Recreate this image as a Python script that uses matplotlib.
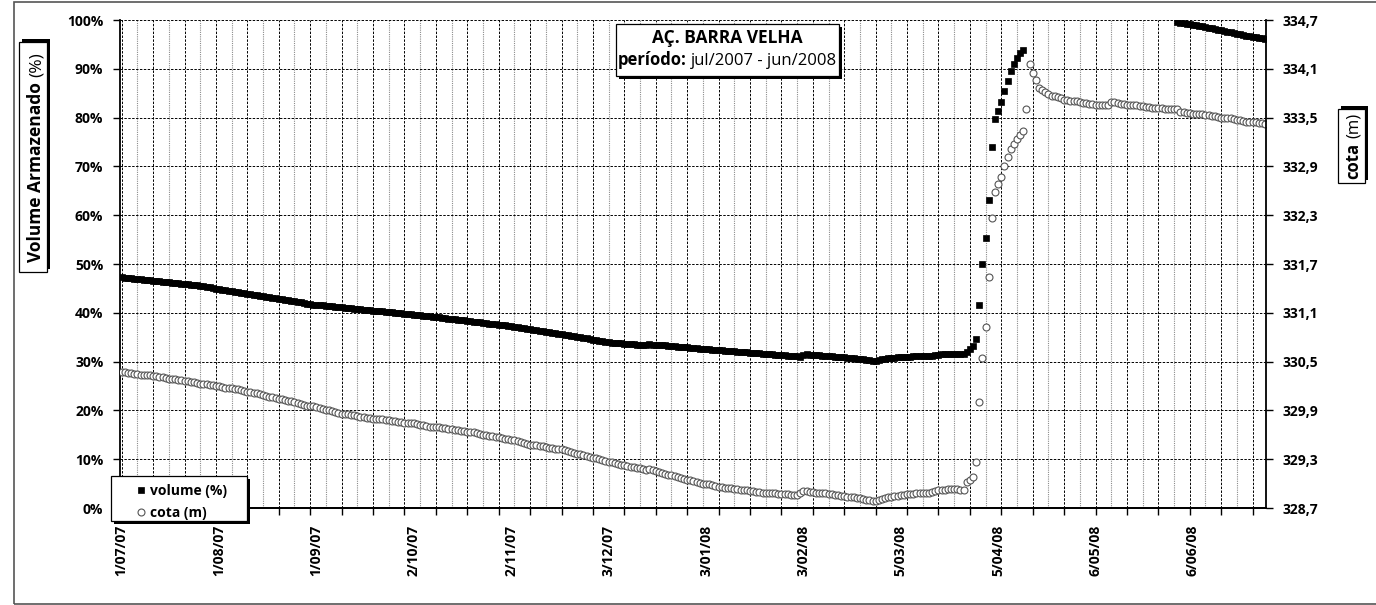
import matplotlib
matplotlib.use('Agg')
import matplotlib.pyplot as plt
import matplotlib.dates as mdates
import numpy as np
import pandas as pd
from matplotlib.patches import Rectangle
from matplotlib.ticker import FuncFormatter

plt.rcParams['font.family'] = ['Open Sans', 'DejaVu Sans']

W, H = 1376, 605

# Dados (um valor por dia, de 1/07/2007 em diante)
inicio = '2007-07-01'

# volume armazenado (%) - acima de 100% os pontos não aparecem no gráfico
volume = [
    47.3, 47.2, 47.2, 47.1, 47.0, 47.0, 46.9, 46.8, 46.8, 46.7,
    46.6, 46.6, 46.5, 46.4, 46.3, 46.3, 46.2, 46.1, 46.1, 46.0,
    45.9, 45.8, 45.7, 45.7, 45.6, 45.5, 45.4, 45.3, 45.2, 45.1,
    44.9, 44.8, 44.7, 44.6, 44.5, 44.4, 44.3, 44.2, 44.1, 44.0,
    43.9, 43.8, 43.7, 43.6, 43.5, 43.4, 43.3, 43.2, 43.1, 43.0,
    42.9, 42.8, 42.7, 42.6, 42.5, 42.4, 42.3, 42.2, 42.1, 41.9,
    41.8, 41.7, 41.6, 41.5, 41.5, 41.4, 41.3, 41.3, 41.2, 41.1,
    41.1, 41.0, 40.9, 40.9, 40.8, 40.7, 40.7, 40.6, 40.6, 40.5,
    40.4, 40.4, 40.3, 40.3, 40.2, 40.1, 40.1, 40.0, 40.0, 39.9,
    39.8, 39.8, 39.7, 39.6, 39.6, 39.5, 39.4, 39.4, 39.3, 39.2,
    39.1, 39.1, 39.0, 38.9, 38.8, 38.8, 38.7, 38.6, 38.5, 38.5,
    38.4, 38.3, 38.2, 38.1, 38.1, 38.0, 37.9, 37.8, 37.7, 37.7,
    37.6, 37.5, 37.4, 37.3, 37.2, 37.1, 37.0, 36.9, 36.8, 36.7,
    36.6, 36.5, 36.4, 36.3, 36.2, 36.1, 36.0, 35.9, 35.8, 35.7,
    35.6, 35.5, 35.4, 35.3, 35.2, 35.1, 35.0, 34.9, 34.8, 34.6,
    34.5, 34.4, 34.3, 34.2, 34.1, 34.0, 33.9, 33.9, 33.8, 33.8,
    33.7, 33.7, 33.6, 33.6, 33.5, 33.5, 33.4, 33.4, 33.6, 33.5,
    33.5, 33.4, 33.4, 33.3, 33.2, 33.2, 33.1, 33.0, 33.0, 32.9,
    32.9, 32.8, 32.8, 32.7, 32.6, 32.6, 32.5, 32.5, 32.4, 32.4,
    32.3, 32.3, 32.2, 32.2, 32.1, 32.1, 32.0, 32.0, 31.9, 31.9,
    31.8, 31.8, 31.7, 31.7, 31.6, 31.6, 31.5, 31.5, 31.4, 31.4,
    31.3, 31.3, 31.2, 31.2, 31.1, 31.1, 31.0, 31.4, 31.5, 31.4,
    31.4, 31.3, 31.3, 31.2, 31.2, 31.1, 31.1, 31.0, 31.0, 30.9,
    30.9, 30.8, 30.7, 30.7, 30.6, 30.5, 30.5, 30.4, 30.3, 30.2,
    30.1, 30.3, 30.5, 30.6, 30.7, 30.8, 30.8, 30.9, 30.9, 31.0,
    31.0, 31.0, 31.1, 31.1, 31.1, 31.2, 31.2, 31.2, 31.2, 31.3,
    31.4, 31.5, 31.5, 31.5, 31.5, 31.5, 31.5, 31.5, 31.6, 32.0,
    32.6, 33.1, 34.6, 41.7, 49.9, 55.3, 63.1, 73.9, 79.8, 81.4,
    83.2, 85.5, 87.5, 89.5, 91.0, 92.3, 93.2, 93.9,
] + [np.nan] * 48 + [
    99.5, 99.4, 99.3, 99.2, 99.1, 99.0, 98.9, 98.8, 98.7, 98.6,
    98.4, 98.3, 98.2, 98.0, 97.9, 97.8, 97.6, 97.5, 97.4, 97.2,
    97.1, 97.0, 96.8, 96.7, 96.6, 96.5, 96.4, 96.3, 96.1,
]

# cota (m)
cota = [
    330.37, 330.37, 330.36, 330.36, 330.35, 330.35, 330.34, 330.34, 330.33, 330.33,
    330.32, 330.32, 330.31, 330.31, 330.30, 330.29, 330.29, 330.28, 330.27, 330.27,
    330.26, 330.26, 330.25, 330.25, 330.24, 330.23, 330.23, 330.22, 330.21, 330.21,
    330.20, 330.20, 330.19, 330.18, 330.18, 330.17, 330.16, 330.16, 330.15, 330.14,
    330.13, 330.13, 330.12, 330.11, 330.10, 330.09, 330.08, 330.07, 330.06, 330.05,
    330.04, 330.04, 330.03, 330.02, 330.01, 330.00, 329.99, 329.98, 329.97, 329.96,
    329.95, 329.95, 329.94, 329.93, 329.92, 329.91, 329.90, 329.89, 329.88, 329.87,
    329.86, 329.86, 329.85, 329.84, 329.84, 329.83, 329.82, 329.82, 329.81, 329.81,
    329.80, 329.80, 329.79, 329.79, 329.78, 329.78, 329.77, 329.77, 329.76, 329.76,
    329.75, 329.75, 329.74, 329.74, 329.73, 329.72, 329.72, 329.71, 329.70, 329.70,
    329.69, 329.69, 329.68, 329.68, 329.67, 329.67, 329.66, 329.66, 329.65, 329.65,
    329.64, 329.63, 329.63, 329.62, 329.61, 329.60, 329.60, 329.59, 329.58, 329.57,
    329.57, 329.56, 329.55, 329.55, 329.54, 329.53, 329.52, 329.51, 329.50, 329.49,
    329.48, 329.48, 329.47, 329.46, 329.46, 329.45, 329.44, 329.44, 329.43, 329.42,
    329.42, 329.41, 329.40, 329.39, 329.38, 329.37, 329.36, 329.35, 329.34, 329.33,
    329.32, 329.31, 329.30, 329.29, 329.28, 329.27, 329.26, 329.25, 329.24, 329.23,
    329.23, 329.22, 329.21, 329.20, 329.19, 329.19, 329.18, 329.17, 329.18, 329.17,
    329.15, 329.14, 329.13, 329.12, 329.11, 329.10, 329.09, 329.08, 329.07, 329.06,
    329.05, 329.04, 329.03, 329.02, 329.01, 329.00, 328.99, 328.99, 328.98, 328.97,
    328.96, 328.96, 328.95, 328.95, 328.94, 328.93, 328.93, 328.92, 328.92, 328.92,
    328.91, 328.91, 328.90, 328.90, 328.89, 328.89, 328.88, 328.88, 328.88, 328.87,
    328.87, 328.87, 328.87, 328.86, 328.86, 328.86, 328.89, 328.91, 328.91, 328.90,
    328.90, 328.89, 328.89, 328.88, 328.88, 328.87, 328.87, 328.86, 328.86, 328.85,
    328.85, 328.84, 328.83, 328.83, 328.82, 328.82, 328.81, 328.80, 328.80, 328.79,
    328.78, 328.80, 328.81, 328.82, 328.83, 328.84, 328.85, 328.85, 328.86, 328.86,
    328.87, 328.87, 328.87, 328.88, 328.88, 328.88, 328.89, 328.89, 328.90, 328.91,
    328.92, 328.92, 328.92, 328.93, 328.93, 328.93, 328.93, 328.92, 328.92, 329.02,
    329.04, 329.08, 329.26, 330.00, 330.55, 330.93, 331.54, 332.26, 332.58, 332.68,
    332.77, 332.91, 333.01, 333.12, 333.18, 333.24, 333.28, 333.33, 333.61, 334.16,
    334.05, 333.96, 333.86, 333.84, 333.81, 333.79, 333.77, 333.76, 333.75, 333.74,
    333.72, 333.72, 333.71, 333.70, 333.70, 333.69, 333.68, 333.68, 333.67, 333.67,
    333.66, 333.66, 333.66, 333.65, 333.65, 333.69, 333.69, 333.68, 333.67, 333.67,
    333.66, 333.66, 333.65, 333.65, 333.64, 333.64, 333.63, 333.63, 333.62, 333.62,
    333.62, 333.62, 333.61, 333.61, 333.61, 333.61, 333.61, 333.57, 333.57, 333.56,
    333.56, 333.55, 333.55, 333.54, 333.54, 333.53, 333.53, 333.52, 333.52, 333.51,
    333.50, 333.50, 333.49, 333.49, 333.48, 333.47, 333.47, 333.46, 333.45, 333.45,
    333.44, 333.44, 333.43, 333.43, 333.42,
]

datas = pd.date_range(inicio, periods=len(cota), freq='D')

rotulos_x = ['1/07/07', '1/08/07', '1/09/07', '2/10/07', '2/11/07', '3/12/07',
             '3/01/08', '3/02/08', '5/03/08', '5/04/08', '6/05/08', '6/06/08']
datas_rotulos = pd.to_datetime(['2007-07-01', '2007-08-01', '2007-09-01', '2007-10-02',
                                '2007-11-02', '2007-12-03', '2008-01-03', '2008-02-03',
                                '2008-03-05', '2008-04-05', '2008-05-06', '2008-06-06'])
ticks_vol = [0, 10, 20, 30, 40, 50, 60, 70, 80, 90, 100]
ticks_cota = [328.7, 329.3, 329.9, 330.5, 331.1, 331.7, 332.3, 332.9, 333.5, 334.1, 334.7]
rotulos_cota = ['328,7', '329,3', '329,9', '330,5', '331,1', '331,7',
                '332,3', '332,9', '333,5', '334,1', '334,7']

fig = plt.figure(figsize=(13.76, 6.05), dpi=100)
fig.patch.set_facecolor('white')

# moldura externa do gráfico
fig.patches.append(Rectangle((14 / W, 1 / H), 1.2, 1 - 3 / H, transform=fig.transFigure,
                             facecolor='none', edgecolor='#555555', lw=1.2, zorder=0))

ax = fig.add_axes([120 / W, 1 - 508 / H, (1265.5 - 120) / W, (508 - 20) / H])
x0 = mdates.date2num(pd.Timestamp(inicio))
ax.set_xlim(x0 - 0.54, x0 + 364.1)
ax.set_ylim(0, 100)

# grade: linhas pretas a cada 10 dias, cinzas a cada 5
ax.set_xticks(mdates.date2num(pd.date_range(inicio, '2008-06-29', freq='10D')))
ax.set_yticks(ticks_vol)
ax.grid(True, which='major', color='black', lw=0.7, ls=(0, (2.5, 1.5)))
for d in pd.date_range('2007-07-06', '2008-06-29', freq='10D'):
    ax.axvline(d, color='#8c8c8c', lw=0.8, ls=(0, (1, 1)), zorder=0.5)
ax.set_axisbelow(True)

ax.xaxis.remove_overlapping_locs = False
ax.set_xticks(mdates.date2num(datas_rotulos), rotulos_x, minor=True)
ax.tick_params(axis='x', which='major', length=5, width=1, labelbottom=False)
ax.tick_params(axis='x', which='minor', length=0, pad=12, labelrotation=90, labelsize=10)
ax.yaxis.set_major_formatter(FuncFormatter(lambda v, p: f'{v:.0f}%'))
ax.tick_params(axis='y', length=5, width=1, pad=7, labelsize=10)
for lbl in ax.get_xticklabels(minor=True) + ax.get_yticklabels():
    lbl.set_fontweight('bold')

h1, = ax.plot(datas, volume, ls='none', marker='s', ms=5, mfc='black', mec='black',
              mew=0.5, label='volume (%)')

ax2 = ax.twinx()
ax2.set_ylim(ticks_cota[0], ticks_cota[-1])
ax2.set_yticks(ticks_cota, rotulos_cota)
ax2.tick_params(axis='y', length=5, width=1, pad=7, labelsize=10)
for lbl in ax2.get_yticklabels():
    lbl.set_fontweight('bold')
h2, = ax2.plot(datas, cota, ls='none', marker='o', ms=5, mfc='white', mec='#555555',
               mew=0.8, label='cota (m)')

for a in (ax, ax2):
    a.spines['top'].set_visible(False)
    for s in a.spines.values():
        s.set_linewidth(1.3)
ax.spines['right'].set_visible(False)
ax2.spines['left'].set_visible(False)


def caixa(xa, ya, xb, yb, dx, dy):
    fig.patches.append(Rectangle(((xa + dx) / W, 1 - (yb + dy) / H), (xb - xa) / W, (yb - ya) / H,
                                 transform=fig.transFigure, facecolor='black',
                                 edgecolor='none', zorder=3))
    fig.patches.append(Rectangle((xa / W, 1 - yb / H), (xb - xa) / W, (yb - ya) / H,
                                 transform=fig.transFigure, facecolor='white',
                                 edgecolor='black', lw=0.9, zorder=3.1))


renderer = fig.canvas.get_renderer()


def texto_misto(partes, centro, base, size, vertical=False):
    # partes de texto com pesos diferentes, em sequência, centradas em 'centro'
    objs = []
    for txt, peso in partes:
        t = fig.text(0, 0, txt, size=size, weight=peso, ha='left', va='baseline',
                     rotation=90 if vertical else 0, rotation_mode='anchor', zorder=5)
        objs.append(t)
    gap = 0.27 * size / 72 * 100
    ext = [t.get_window_extent(renderer) for t in objs]
    comp = [e.height if vertical else e.width for e in ext]
    total = sum(comp) + gap * (len(objs) - 1)
    if vertical:
        pos = centro + total / 2
        for t, c in zip(objs, comp):
            t.set_position((base / W, 1 - pos / H))
            pos -= c + gap
    else:
        pos = centro - total / 2
        for t, c in zip(objs, comp):
            t.set_position((pos / W, 1 - base / H))
            pos += c + gap
    return objs


# título
caixa(616, 24, 839, 76, 3, 3)
fig.text(727.5 / W, 1 - 43 / H, 'AÇ. BARRA VELHA', size=12.5, weight='bold',
         ha='center', va='baseline', zorder=5)
texto_misto([('período:', 'bold'), ('jul/2007 - jun/2008', 'normal')], 727.5, 65, 12)

# rótulos dos eixos em caixas
caixa(19, 42, 47, 272, 3, -3)
texto_misto([('Volume Armazenado', 'bold'), ('(%)', 'normal')], 157, 41, 12.5, vertical=True)
caixa(1338, 109, 1365, 183, 3, -3)
texto_misto([('cota', 'bold'), ('(m)', 'normal')], 146, 1358, 12, vertical=True)

# legenda
caixa(111, 476, 247, 521, 3, 3)
fig.legend([h1, h2], ['volume (%)', 'cota (m)'], loc='upper left',
           bbox_to_anchor=(128 / W, 1 - 477 / H), frameon=False, handlelength=0.8,
           handletextpad=0.25, borderpad=0, labelspacing=0.6,
           prop={'weight': 'bold', 'size': 10})

fig.savefig('out.png', dpi=100)
